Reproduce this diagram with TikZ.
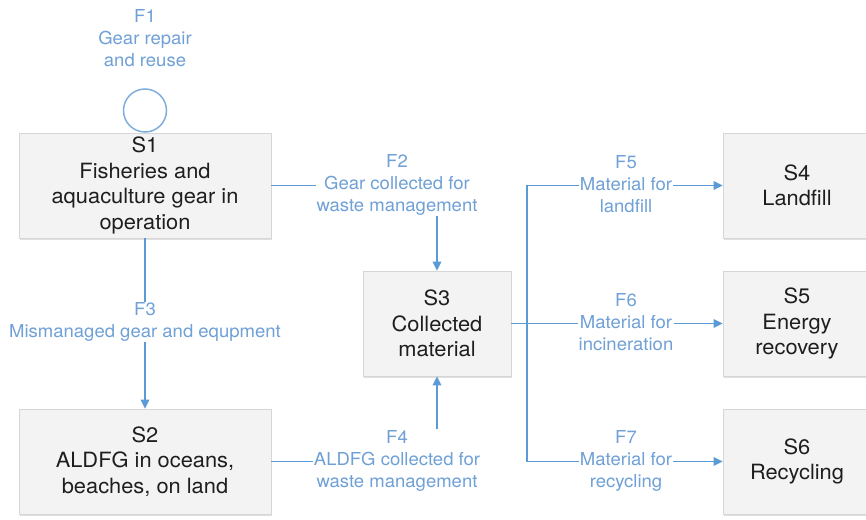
\documentclass[tikz,border=0pt]{standalone}
\usepackage{fontspec}
\setmainfont{TeX Gyre Heros}[FakeStretch=1.04]
\usetikzlibrary{arrows.meta,shadows}
\definecolor{flowblue}{HTML}{5B9BD5}
\definecolor{labelblue}{HTML}{6FA0D6}
\definecolor{loopblue}{HTML}{7FAEDD}
\definecolor{boxfill}{HTML}{F3F3F3}
\definecolor{boxline}{HTML}{D6D6D6}
\definecolor{boxtext}{HTML}{1E1E1E}
\tikzset{
  stockbox/.style={draw=boxline, fill=boxfill, line width=0.8pt, minimum width=252pt, minimum height=105pt,
    align=center, text=boxtext, inner sep=0pt,
    font=\fontsize{21}{25.5}\selectfont,
    drop shadow={shadow xshift=0.8pt, shadow yshift=-1.6pt, fill=black!12, opacity=1}},
  smallbox/.style={stockbox, minimum width=148pt},
  flow/.style={draw=flowblue, line width=1.5pt, -{Triangle[length=9pt,width=8.5pt]}},
  plainflow/.style={draw=flowblue, line width=1.5pt},
  flowlabel/.style={fill=white, align=center, text=labelblue, inner sep=1pt,
    font=\fontsize{17.8}{22}\selectfont}
}
\begin{document}
\begin{tikzpicture}[x=1pt,y=-1pt]
\useasboundingbox (0,0) rectangle (866,519);
\begin{scope}
\clip (0,0) rectangle (866,519);
% boxes
\node[stockbox] (S1) at (145,185.5) {S1\\Fisheries and\\aquaculture gear in\\operation};
\node[stockbox] (S2) at (145,461.5) {S2\\ALDFG in oceans,\\beaches, on land};
\node[smallbox] (S3) at (437,323.5) {S3\\Collected\\material};
\node[smallbox] (S4) at (797,185.5) {S4\\Landfill};
\node[smallbox] (S5) at (797,323.5) {S5\\Energy\\recovery};
\node[smallbox] (S6) at (797,461.5) {S6\\Recycling};
\end{scope}
% F1 loop
\node[circle, draw=loopblue, line width=1.5pt, minimum size=43pt, inner sep=0pt] (loop) at (145,110.5) {};
% connectors
\draw[flow] (S1.east) -| (S3.north);
\draw[flow] (S2.east) -| (S3.south);
\draw[flow] (S1.south) -- (S2.north);
\coordinate (br) at (527,323.5);
\draw[plainflow] (S3.east) -- (br);
\draw[flow] (br) |- (S4.west);
\draw[flow] (br) -- (S5.west);
\draw[flow] (br) |- (S6.west);
% labels
\node[flowlabel] (F1) at (145,38) {F1\\Gear repair\\and reuse};
\node[flowlabel] (F2) at (397,184.5) {F2\\Gear collected for\\waste management};
\node[flowlabel] (F3) at (145,322) {F3\\Mismanaged gear and equpment};
\node[flowlabel] (F4) at (397,460.5) {F4\\ALDFG collected for\\waste management};
\node[flowlabel] (F5) at (626,184.5) {F5\\Material for\\landfill};
\node[flowlabel] (F6) at (626,322.5) {F6\\Material for\\incineration};
\node[flowlabel] (F7) at (626,460.5) {F7\\Material for\\recycling};
\end{tikzpicture}
\end{document}
